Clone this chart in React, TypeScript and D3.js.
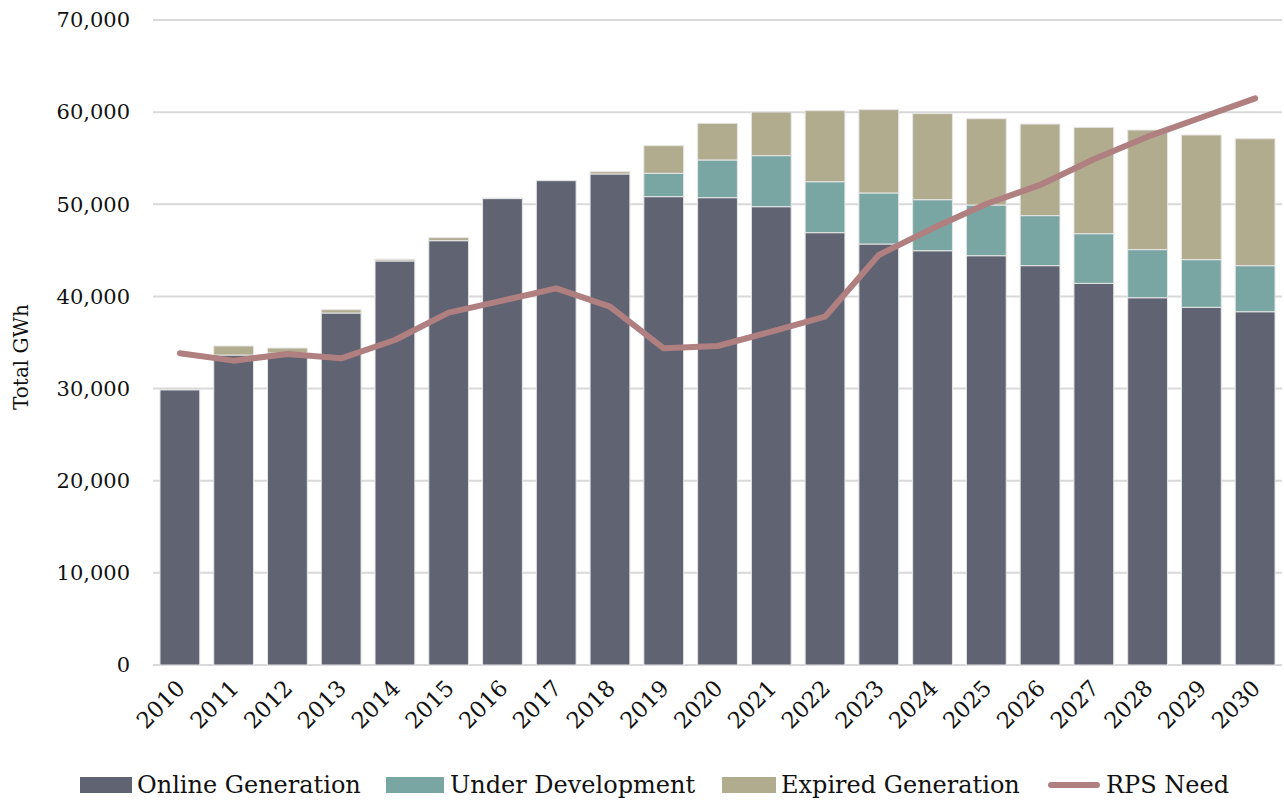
import React from "react";
import * as d3 from "d3";

const years = ["2010","2011","2012","2013","2014","2015","2016","2017","2018","2019","2020","2021","2022","2023","2024","2025","2026","2027","2028","2029","2030"];
const onlineGen = [29850, 33640, 33860, 38200, 43850, 46050, 50620, 52560, 53290, 50830, 50720, 49740, 46920, 45690, 44960, 44420, 43340, 41420, 39860, 38820, 38340];
const underDev = [0, 0, 0, 0, 0, 0, 0, 0, 0, 2530, 4090, 5540, 5530, 5540, 5540, 5500, 5430, 5390, 5220, 5170, 5000];
const expiredGen = [0, 980, 540, 360, 180, 330, 60, 0, 250, 3000, 3980, 4740, 7710, 9040, 9340, 9370, 9940, 11540, 12980, 13530, 13780];
const rpsNeed = [33830, 33030, 33750, 33280, 35270, 38240, 39550, 40880, 38890, 34370, 34620, 36170, 37800, 44500, 47390, 50030, 52100, 54880, 57340, 59420, 61500];
const yTicks = [0, 10000, 20000, 30000, 40000, 50000, 60000, 70000];

const seriesNames = ["Online Generation", "Under Development", "Expired Generation"];
const colors = ["#5f6372", "#79a6a3", "#b2ac8e"];
const lineColor = "#b07f80";
const FONT = "'DejaVu Serif', serif";

export default function App() {
  const W = 1284, H = 802;
  const x = d3.scaleBand<string>().domain(years).range([153, 1282]).paddingInner(0.26).paddingOuter(0.13);
  const y = d3.scaleLinear().domain([0, 70000]).range([665, 20]);
  const rows = years.map((yr, i) => ({ year: yr, online: onlineGen[i], dev: underDev[i], exp: expiredGen[i] }));
  const stack = d3.stack<any>().keys(["online", "dev", "exp"])(rows);
  const line = d3.line<number>().x((_, i) => (x(years[i]) as number) + x.bandwidth() / 2).y(d => y(d));
  const fmt = d3.format(",");

  const legend = [
    { type: "rect", x0: 80, w: 52, tx: 137, label: seriesNames[0], color: colors[0] },
    { type: "rect", x0: 386, w: 58, tx: 450, label: seriesNames[1], color: colors[1] },
    { type: "rect", x0: 722, w: 54, tx: 781, label: seriesNames[2], color: colors[2] },
    { type: "line", x0: 1048, w: 52, tx: 1106, label: "RPS Need", color: lineColor },
  ];

  return (
    <svg width={W} height={H} style={{ position: "absolute", left: 0, top: 0, background: "#fff" }} fontFamily={FONT}>
      {yTicks.map(t => (
        <g key={t}>
          <line x1={153} x2={1282} y1={y(t)} y2={y(t)} stroke="#d9d9d9" strokeWidth={2} />
          <text x={130} y={y(t)} dy="0.35em" textAnchor="end" fontSize={21} fill="#111">{fmt(t)}</text>
        </g>
      ))}
      {stack.map((s, si) => (
        <g key={si} fill={colors[si]}>
          {s.map((d, i) => d[1] - d[0] > 0 ? (
            <rect key={i} x={x(years[i])} width={x.bandwidth()} y={y(d[1])} height={y(d[0]) - y(d[1])}
              stroke="#e6e6e6" strokeWidth={1} />
          ) : null)}
        </g>
      ))}
      <path d={line(rpsNeed) || ""} fill="none" stroke={lineColor} strokeWidth={6} strokeLinecap="round" strokeLinejoin="round" />
      {years.map(yr => {
        const cx = (x(yr) as number) + x.bandwidth() / 2;
        return (
          <text key={yr} transform={`translate(${cx + 1},${684}) rotate(-45)`} textAnchor="end" fontSize={22.5} fill="#111" dy="0.35em">{yr}</text>
        );
      })}
      <text transform="translate(28,357) rotate(-90)" textAnchor="middle" fontSize={20} fill="#111">Total GWh</text>
      {legend.map(l => (
        <g key={l.label}>
          {l.type === "rect" ? (
            <rect x={l.x0} y={777} width={l.w} height={16} fill={l.color} />
          ) : (
            <line x1={l.x0 + 3} x2={l.x0 + l.w - 3} y1={785} y2={785} stroke={l.color} strokeWidth={6} strokeLinecap="round" />
          )}
          <text x={l.tx} y={785} dy="0.35em" fontSize={24} fill="#111">{l.label}</text>
        </g>
      ))}
    </svg>
  );
}
